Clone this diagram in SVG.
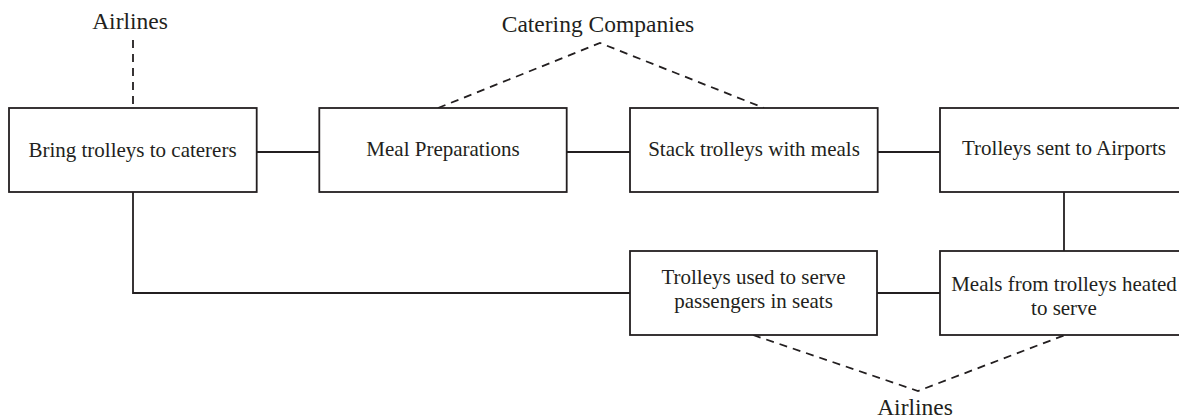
<svg xmlns="http://www.w3.org/2000/svg" width="1179" height="420" viewBox="0 0 1179 420">
<style>
.box{fill:#fff;stroke:#231f20;stroke-width:1.8}
.t{font-family:"Liberation Serif",serif;font-size:21px;fill:#231f20;text-anchor:middle}
.lbl{font-family:"Liberation Serif",serif;font-size:23.5px;fill:#231f20;text-anchor:middle}
.ln{fill:none;stroke:#231f20;stroke-width:1.8}
.dash{fill:none;stroke:#231f20;stroke-width:1.8;stroke-dasharray:8 6}
</style>
<rect width="1179" height="420" fill="#fff"/>
<g id="connectors">
<line class="ln" x1="256.7" y1="152" x2="319.3" y2="152"/>
<line class="ln" x1="566.7" y1="152" x2="630" y2="152"/>
<line class="ln" x1="877.7" y1="152" x2="940" y2="152"/>
<line class="ln" x1="1064" y1="192" x2="1064" y2="251"/>
<line class="ln" x1="877" y1="293" x2="940" y2="293"/>
<polyline class="ln" points="133,192 133,293 630,293"/>
<line class="dash" x1="133" y1="40" x2="133" y2="108"/>
<polyline class="dash" points="438,108 600,43 764,108"/>
<polyline class="dash" points="753,335 918,391 1065,335"/>
</g>
<g id="label-airlines-top"><text class="lbl" x="130" y="29">Airlines</text></g>
<g id="label-catering"><text class="lbl" x="598" y="32">Catering Companies</text></g>
<g id="label-airlines-bottom"><text class="lbl" x="915" y="415">Airlines</text></g>
<g id="n1"><rect class="box" x="9" y="108" width="247.7" height="84"/><text class="t" x="132.5" y="157">Bring trolleys to caterers</text></g>
<g id="n2"><rect class="box" x="319.3" y="108" width="247.4" height="84"/><text class="t" x="443" y="156">Meal Preparations</text></g>
<g id="n3"><rect class="box" x="630" y="108" width="247.7" height="84"/><text class="t" x="754" y="156">Stack trolleys with meals</text></g>
<g id="n4"><rect class="box" x="940" y="108" width="260" height="84"/><text class="t" x="1064" y="155">Trolleys sent to Airports</text></g>
<g id="n5"><rect class="box" x="630" y="251" width="247" height="84"/><text class="t" x="753.5" y="284">Trolleys used to serve</text><text class="t" x="753.5" y="308">passengers in seats</text></g>
<g id="n6"><rect class="box" x="940" y="251" width="260" height="84"/><text class="t" x="1064" y="291">Meals from trolleys heated</text><text class="t" x="1064" y="315">to serve</text></g>
</svg>
